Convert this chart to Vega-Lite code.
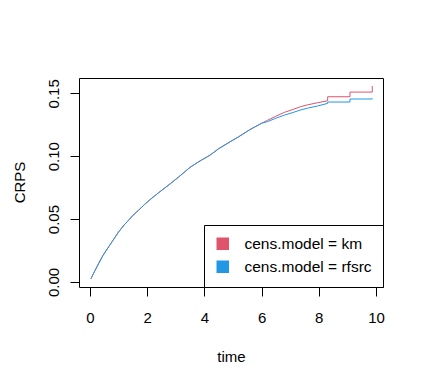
{
  "$schema": "https://vega.github.io/schema/vega-lite/v6.json",
  "width": 304,
  "height": 209,
  "autosize": {"type": "none"},
  "padding": {"left": 79, "top": 78, "right": 41, "bottom": 98},
  "background": "white",
  "config": {
    "font": "Liberation Sans",
    "view": {"stroke": "black", "strokeWidth": 1},
    "axis": {
      "grid": false,
      "domain": false,
      "tickColor": "black",
      "tickSize": 9,
      "tickWidth": 1,
      "labelFont": "Liberation Sans",
      "labelFontSize": 15,
      "labelColor": "black",
      "titleFont": "Liberation Sans",
      "titleFontSize": 15,
      "titleFontWeight": "normal",
      "titleColor": "black"
    },
    "legend": {
      "orient": "bottom-right",
      "offset": 0,
      "padding": 11,
      "strokeColor": "black",
      "fillColor": "white",
      "cornerRadius": 0,
      "symbolType": "square",
      "symbolSize": 121,
      "symbolStrokeColor": "black",
      "symbolStrokeWidth": 1,
      "labelFont": "Liberation Sans",
      "labelFontSize": 15.5,
      "labelColor": "black",
      "labelOffset": 14,
      "rowPadding": 5
    }
  },
  "data": {
    "values": [
      {"model": "cens.model = km", "i": 0, "t": 0.03, "crps": 0.0025},
      {"model": "cens.model = km", "i": 1, "t": 0.15, "crps": 0.008},
      {"model": "cens.model = km", "i": 2, "t": 0.3, "crps": 0.0146},
      {"model": "cens.model = km", "i": 3, "t": 0.45, "crps": 0.021},
      {"model": "cens.model = km", "i": 4, "t": 0.65, "crps": 0.0279},
      {"model": "cens.model = km", "i": 5, "t": 0.8, "crps": 0.033},
      {"model": "cens.model = km", "i": 6, "t": 1.0, "crps": 0.0398},
      {"model": "cens.model = km", "i": 7, "t": 1.2, "crps": 0.0455},
      {"model": "cens.model = km", "i": 8, "t": 1.35, "crps": 0.0491},
      {"model": "cens.model = km", "i": 9, "t": 1.5, "crps": 0.053},
      {"model": "cens.model = km", "i": 10, "t": 1.7, "crps": 0.0571},
      {"model": "cens.model = km", "i": 11, "t": 1.9, "crps": 0.0615},
      {"model": "cens.model = km", "i": 12, "t": 2.1, "crps": 0.0655},
      {"model": "cens.model = km", "i": 13, "t": 2.4, "crps": 0.071},
      {"model": "cens.model = km", "i": 14, "t": 2.8, "crps": 0.078},
      {"model": "cens.model = km", "i": 15, "t": 3.1, "crps": 0.0835},
      {"model": "cens.model = km", "i": 16, "t": 3.5, "crps": 0.0912},
      {"model": "cens.model = km", "i": 17, "t": 3.85, "crps": 0.0963},
      {"model": "cens.model = km", "i": 18, "t": 4.2, "crps": 0.1009},
      {"model": "cens.model = km", "i": 19, "t": 4.5, "crps": 0.106},
      {"model": "cens.model = km", "i": 20, "t": 4.9, "crps": 0.1115},
      {"model": "cens.model = km", "i": 21, "t": 5.2, "crps": 0.1155},
      {"model": "cens.model = km", "i": 22, "t": 5.6, "crps": 0.1213},
      {"model": "cens.model = km", "i": 23, "t": 6.0, "crps": 0.1262},
      {"model": "cens.model = km", "i": 24, "t": 6.2, "crps": 0.1285},
      {"model": "cens.model = km", "i": 25, "t": 6.5, "crps": 0.1318},
      {"model": "cens.model = km", "i": 26, "t": 6.8, "crps": 0.1349},
      {"model": "cens.model = km", "i": 27, "t": 7.1, "crps": 0.1372},
      {"model": "cens.model = km", "i": 28, "t": 7.35, "crps": 0.1393},
      {"model": "cens.model = km", "i": 29, "t": 7.6, "crps": 0.1408},
      {"model": "cens.model = km", "i": 30, "t": 7.95, "crps": 0.1425},
      {"model": "cens.model = km", "i": 31, "t": 8.31, "crps": 0.1441},
      {"model": "cens.model = km", "i": 32, "t": 8.31, "crps": 0.1473},
      {"model": "cens.model = km", "i": 33, "t": 9.09, "crps": 0.1473},
      {"model": "cens.model = km", "i": 34, "t": 9.09, "crps": 0.151},
      {"model": "cens.model = km", "i": 35, "t": 9.87, "crps": 0.151},
      {"model": "cens.model = km", "i": 36, "t": 9.87, "crps": 0.1558},
      {"model": "cens.model = rfsrc", "i": 0, "t": 0.03, "crps": 0.0025},
      {"model": "cens.model = rfsrc", "i": 1, "t": 0.15, "crps": 0.008},
      {"model": "cens.model = rfsrc", "i": 2, "t": 0.3, "crps": 0.0146},
      {"model": "cens.model = rfsrc", "i": 3, "t": 0.45, "crps": 0.021},
      {"model": "cens.model = rfsrc", "i": 4, "t": 0.65, "crps": 0.0279},
      {"model": "cens.model = rfsrc", "i": 5, "t": 0.8, "crps": 0.033},
      {"model": "cens.model = rfsrc", "i": 6, "t": 1.0, "crps": 0.0398},
      {"model": "cens.model = rfsrc", "i": 7, "t": 1.2, "crps": 0.0455},
      {"model": "cens.model = rfsrc", "i": 8, "t": 1.35, "crps": 0.0491},
      {"model": "cens.model = rfsrc", "i": 9, "t": 1.5, "crps": 0.053},
      {"model": "cens.model = rfsrc", "i": 10, "t": 1.7, "crps": 0.0571},
      {"model": "cens.model = rfsrc", "i": 11, "t": 1.9, "crps": 0.0615},
      {"model": "cens.model = rfsrc", "i": 12, "t": 2.1, "crps": 0.0655},
      {"model": "cens.model = rfsrc", "i": 13, "t": 2.4, "crps": 0.071},
      {"model": "cens.model = rfsrc", "i": 14, "t": 2.8, "crps": 0.078},
      {"model": "cens.model = rfsrc", "i": 15, "t": 3.1, "crps": 0.0835},
      {"model": "cens.model = rfsrc", "i": 16, "t": 3.5, "crps": 0.0912},
      {"model": "cens.model = rfsrc", "i": 17, "t": 3.85, "crps": 0.0963},
      {"model": "cens.model = rfsrc", "i": 18, "t": 4.2, "crps": 0.1009},
      {"model": "cens.model = rfsrc", "i": 19, "t": 4.5, "crps": 0.106},
      {"model": "cens.model = rfsrc", "i": 20, "t": 4.9, "crps": 0.1115},
      {"model": "cens.model = rfsrc", "i": 21, "t": 5.2, "crps": 0.1155},
      {"model": "cens.model = rfsrc", "i": 22, "t": 5.6, "crps": 0.1213},
      {"model": "cens.model = rfsrc", "i": 23, "t": 6.0, "crps": 0.1262},
      {"model": "cens.model = rfsrc", "i": 24, "t": 6.2, "crps": 0.1275},
      {"model": "cens.model = rfsrc", "i": 25, "t": 6.5, "crps": 0.1302},
      {"model": "cens.model = rfsrc", "i": 26, "t": 6.8, "crps": 0.1327},
      {"model": "cens.model = rfsrc", "i": 27, "t": 7.1, "crps": 0.1348},
      {"model": "cens.model = rfsrc", "i": 28, "t": 7.35, "crps": 0.1367},
      {"model": "cens.model = rfsrc", "i": 29, "t": 7.6, "crps": 0.1382},
      {"model": "cens.model = rfsrc", "i": 30, "t": 7.95, "crps": 0.1399},
      {"model": "cens.model = rfsrc", "i": 31, "t": 8.31, "crps": 0.142},
      {"model": "cens.model = rfsrc", "i": 32, "t": 8.31, "crps": 0.1431},
      {"model": "cens.model = rfsrc", "i": 33, "t": 9.09, "crps": 0.1431},
      {"model": "cens.model = rfsrc", "i": 34, "t": 9.09, "crps": 0.1455},
      {"model": "cens.model = rfsrc", "i": 35, "t": 9.87, "crps": 0.1455},
      {"model": "cens.model = rfsrc", "i": 36, "t": 9.87, "crps": 0.146}
    ]
  },
  "encoding": {
    "x": {
      "field": "t",
      "type": "quantitative",
      "scale": {"domain": [-0.385, 10.245], "nice": false, "zero": false},
      "axis": {
        "title": "time",
        "values": [0, 2, 4, 6, 8, 10],
        "format": "d",
        "labelPadding": 14,
        "titleX": 152,
        "titleY": 74,
        "titleBaseline": "alphabetic"
      }
    },
    "y": {
      "field": "crps",
      "type": "quantitative",
      "scale": {"domain": [-0.00398, 0.1622], "nice": false, "zero": false},
      "axis": {
        "title": "CRPS",
        "values": [0, 0.05, 0.1, 0.15],
        "format": ".2f",
        "labelAngle": -90,
        "labelAlign": "center",
        "labelBaseline": "alphabetic",
        "labelPadding": 12,
        "titleAngle": -90,
        "titleX": -55,
        "titleY": 104,
        "titleAlign": "center",
        "titleBaseline": "alphabetic"
      }
    }
  },
  "layer": [
    {
      "mark": {"type": "square", "filled": true, "stroke": "black", "strokeWidth": 1, "size": 121, "opacity": 0},
      "encoding": {
        "fill": {
          "field": "model",
          "type": "nominal",
          "scale": {"domain": ["cens.model = km", "cens.model = rfsrc"], "range": ["#DF536B", "#2297E6"]},
          "legend": {
            "title": null,
            "symbolType": "square",
            "symbolStrokeColor": "black",
            "symbolStrokeWidth": 1,
            "symbolOpacity": 1,
            "encode": {
              "symbols": {
                "enter": {"stroke": {"value": "#000000"}, "strokeWidth": {"value": 1.5}, "strokeOpacity": {"value": 1}},
                "update": {"opacity": {"value": 1}, "stroke": {"value": "#000000"}, "strokeWidth": {"value": 1.5}, "strokeOpacity": {"value": 1}}
              }
            }
          }
        }
      }
    },
    {
      "mark": {"type": "line", "strokeWidth": 1, "interpolate": "linear"},
      "encoding": {
        "stroke": {
          "field": "model",
          "type": "nominal",
          "scale": {"domain": ["cens.model = km", "cens.model = rfsrc"], "range": ["#DF536B", "#2297E6"]},
          "legend": null
        },
        "order": {"field": "i", "type": "quantitative"}
      }
    }
  ]
}
